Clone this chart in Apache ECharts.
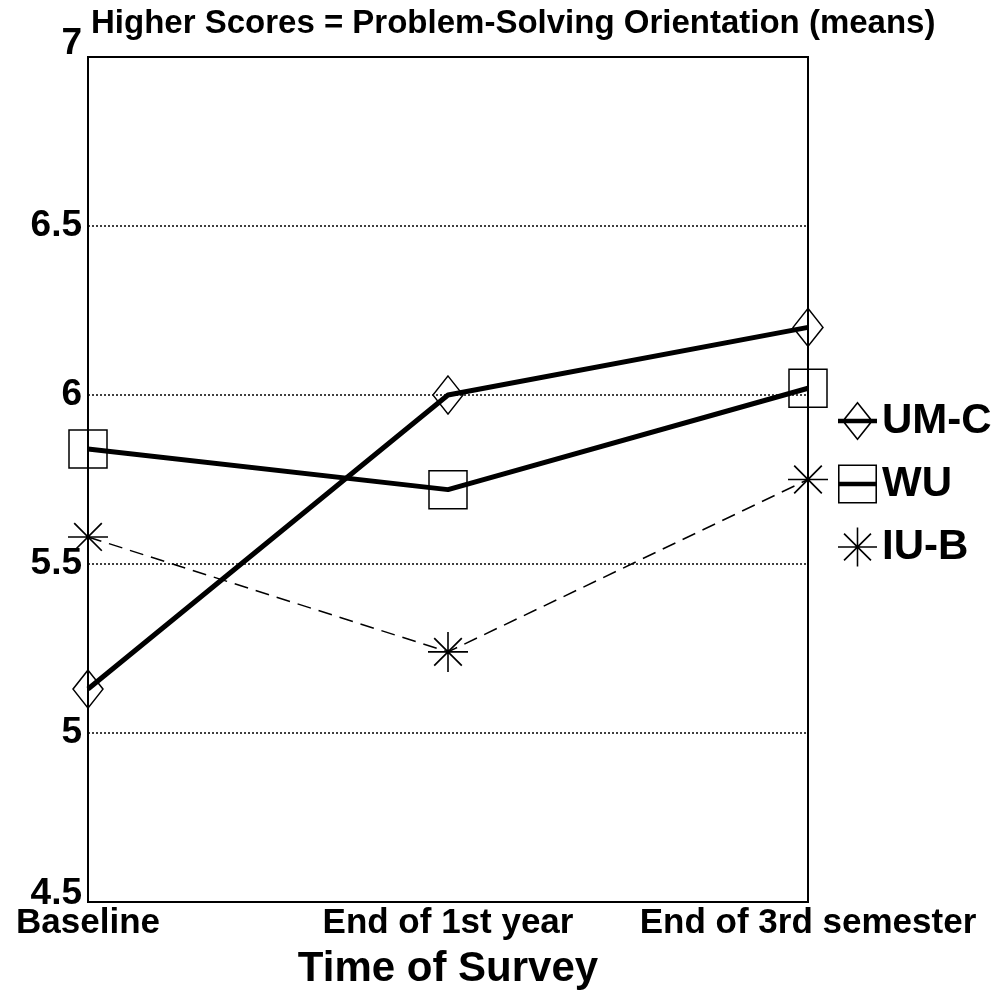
<!DOCTYPE html>
<html>
<head>
<meta charset="utf-8">
<script src="https://cdn.jsdelivr.net/npm/echarts@6/dist/echarts.min.js"></script>
<style>
html,body{margin:0;padding:0;background:#fff;}
#chart{width:998px;height:1002px;}
</style>
</head>
<body>
<div id="chart"></div>
<script>
// ---- data ----
const categories = ['Baseline', 'End of 1st year', 'End of 3rd semester'];
const seriesNames = ['UM-C', 'WU', 'IU-B'];
const umcValues = [5.13, 6.0, 6.2];
const wuValues = [5.84, 5.72, 6.02];
const iubValues = [5.58, 5.24, 5.75];
const titleText = 'Higher Scores = Problem-Solving Orientation (means)';
const xAxisTitle = 'Time of Survey';

// ---- symbol shapes ----
const asteriskPath = 'path://M0,19.2 L40,19.2 L40,20.8 L0,20.8 Z M19.2,0 L20.8,0 L20.8,40 L19.2,40 Z M5.6,6.8 L6.8,5.6 L34.4,33.2 L33.2,34.4 Z M33.2,5.6 L34.4,6.8 L6.8,34.4 L5.6,33.2 Z';
const diamondLegendPath = 'path://M20,0 L36,20 L20,40 L4,20 Z M20,2.6 L6.2,20 L20,37.4 L33.8,20 Z M0,17.6 L40,17.6 L40,22.4 L0,22.4 Z';
const squareLegendPath = 'path://M0,0 L40,0 L40,40 L0,40 Z M1.6,1.6 L1.6,38.4 L38.4,38.4 L38.4,1.6 Z M0,17.6 L40,17.6 L40,22.4 L0,22.4 Z';

const chart = echarts.init(document.getElementById('chart'), null, {renderer: 'canvas'});

const yFont = {fontFamily: 'Liberation Sans', fontWeight: 'bold', fontSize: 37, color: '#000'};

const option = {
  backgroundColor: '#fff',
  animation: false,
  title: {
    text: titleText,
    left: 86,
    top: 2,
    textStyle: {fontFamily: 'Liberation Sans', fontWeight: 'bold', fontSize: 33, color: '#000'}
  },
  legend: {
    orient: 'vertical',
    left: 833,
    top: 395,
    itemWidth: 39,
    itemHeight: 40,
    itemGap: 21,
    selectedMode: false,
    textStyle: {fontFamily: 'Liberation Sans', fontWeight: 'bold', fontSize: 42, color: '#000'},
    data: [
      {name: seriesNames[0], icon: diamondLegendPath, itemStyle: {color: '#000', borderWidth: 0}},
      {name: seriesNames[1], icon: squareLegendPath, itemStyle: {color: '#000', borderWidth: 0}},
      {name: seriesNames[2], icon: asteriskPath, itemStyle: {color: '#000', borderWidth: 0}}
    ]
  },
  grid: {
    left: 88,
    right: 190,
    top: 57,
    bottom: 100,
    show: true,
    borderColor: '#000',
    borderWidth: 2,
    backgroundColor: 'transparent'
  },
  xAxis: {
    type: 'category',
    data: categories,
    boundaryGap: false,
    axisLine: {show: false},
    axisTick: {show: false},
    splitLine: {show: false},
    axisLabel: {
      margin: 4,
      interval: 0,
      fontFamily: 'Liberation Sans', fontWeight: 'bold', fontSize: 35, color: '#000'
    },
    name: xAxisTitle,
    nameLocation: 'middle',
    nameGap: 46,
    nameTextStyle: {fontFamily: 'Liberation Sans', fontWeight: 'bold', fontSize: 42, color: '#000'}
  },
  yAxis: {
    type: 'value',
    min: 4.5,
    max: 7,
    interval: 0.5,
    axisLine: {show: false},
    axisTick: {show: false},
    splitLine: {
      show: true,
      showMinLine: false,
      showMaxLine: false,
      lineStyle: {color: '#000', width: 1.5, type: [2, 2]}
    },
    axisLabel: Object.assign({
      margin: 6,
      formatter: function (v) {
        if (v === 7) return '{t|7}';
        if (v === 4.5) return '{b|4.5}';
        return String(v);
      },
      rich: {
        t: Object.assign({padding: [0, 0, 26, 0]}, yFont),
        b: Object.assign({padding: [0, 0, 16, 0]}, yFont)
      }
    }, yFont)
  },
  series: [
    {
      name: seriesNames[0],
      type: 'line',
      data: umcValues,
      symbol: 'diamond',
      symbolSize: [30, 38],
      itemStyle: {color: 'rgba(0,0,0,0)', borderColor: '#000', borderWidth: 1.5},
      lineStyle: {color: '#000', width: 5},
      z: 3
    },
    {
      name: seriesNames[1],
      type: 'line',
      data: wuValues,
      symbol: 'rect',
      symbolSize: 38,
      itemStyle: {color: 'rgba(0,0,0,0)', borderColor: '#000', borderWidth: 1.5},
      lineStyle: {color: '#000', width: 5},
      z: 3
    },
    {
      name: seriesNames[2],
      type: 'line',
      data: iubValues,
      symbol: asteriskPath,
      symbolSize: 40,
      itemStyle: {color: '#000', borderWidth: 0},
      lineStyle: {color: '#000', width: 1.5, type: [14, 8]},
      z: 3
    }
  ]
};

chart.setOption(option);
</script>
</body>
</html>
